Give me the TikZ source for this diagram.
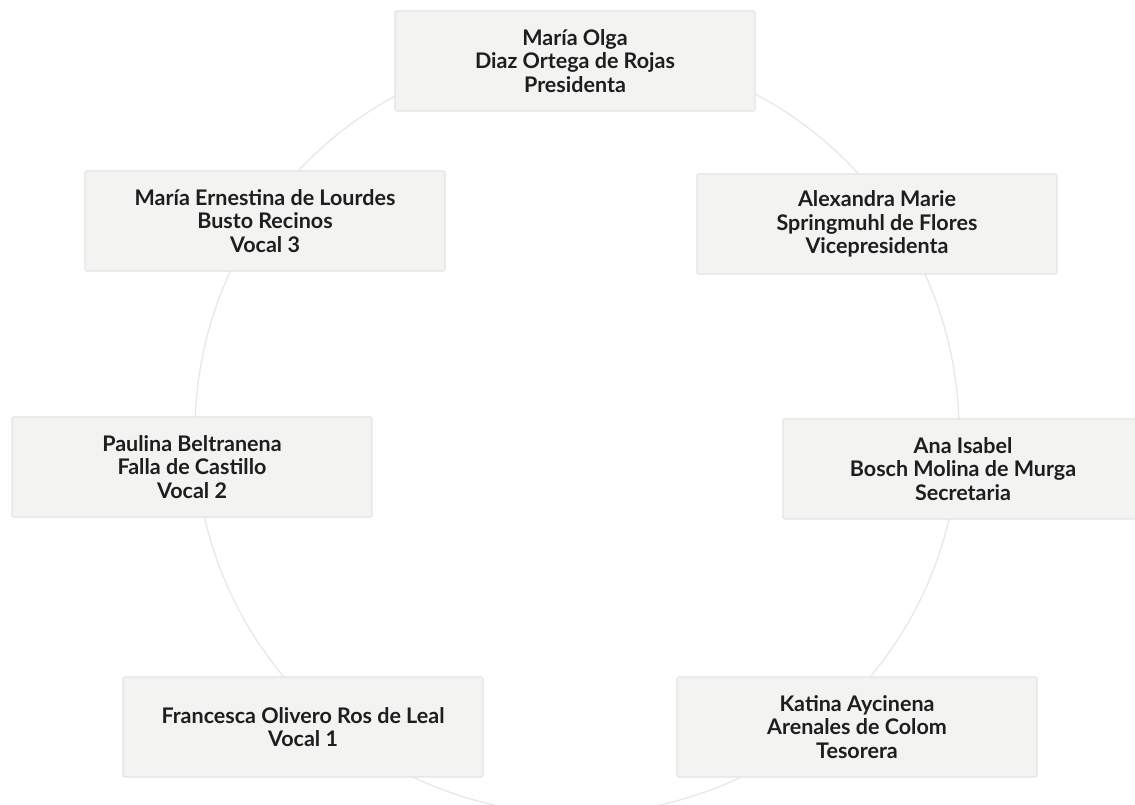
\documentclass[tikz,border=0pt]{standalone}
\usepackage{fontspec}
\setmainfont{Lato}
\usepackage{tikz}
\usetikzlibrary{positioning}

\definecolor{boxfill}{HTML}{F3F3F2}
\definecolor{boxline}{HTML}{E4E4E4}
\definecolor{ringline}{HTML}{E8E8E8}
\definecolor{textdark}{HTML}{1E1E1E}

\begin{document}
\begin{tikzpicture}[x=1pt,y=1pt,on grid,
		member/.style={draw=boxline,fill=boxfill,line width=1.2pt,rounded corners=2pt,
			minimum width=360pt,minimum height=100pt,align=center,text=textdark,
			font=\bfseries\fontsize{21.5}{23.5}\selectfont}]
		\useasboundingbox (0,0) rectangle (1135,804);
		\clip (0,0) rectangle (1135,804);
		\fill[white] (0,0) rectangle (1135,804);
		
		% ring behind the boxes
		\draw[ringline,line width=1.3pt] (577,372) circle (382);
		
		\node[member] (pres) at (575,743) {María Olga\\Diaz Ortega de Rojas\\Presidenta};
		\node[member] (vocal3) [below left=160pt and 310pt of pres] {María Ernestina de Lourdes\\Busto Recinos\\Vocal 3};
		\node[member] (vice) [below right=163pt and 302pt of pres] {Alexandra Marie\\Springmuhl de Flores\\Vicepresidenta};
		
		\node[member] (vocal2) [below left=246pt and 73pt of vocal3] {Paulina Beltranena\\Falla de Castillo\\Vocal 2};
		\node[member] (sec) [below right=245pt and 86pt of vice] {Ana Isabel\\Bosch Molina de Murga\\Secretaria};
		
		\node[member] (vocal1) [below right=260pt and 111pt of vocal2] {Francesca Olivero Ros de Leal\\Vocal 1};
		\node[member] (tes) [right=554pt of vocal1] {Katina Aycinena\\Arenales de Colom\\Tesorera};
	\end{tikzpicture}
\end{document}
